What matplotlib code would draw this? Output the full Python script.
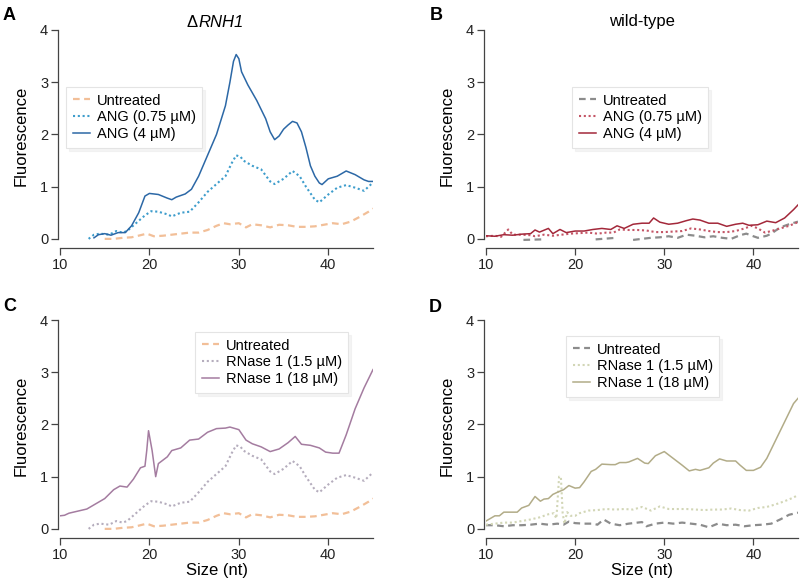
import numpy as np
import matplotlib
matplotlib.use('Agg')
import matplotlib.pyplot as plt

plt.rcParams['font.family'] = ['Liberation Sans', 'DejaVu Sans']

nan = np.nan

# ---- panel A / C shared traces (dRNH1) ----
untr_x = [15, 16, 17, 18, 19, 19.7, 20.5, 21.5, 22.5, 23.5, 24.5, 25.5, 26.5, 27.5, 28.3, 29,
          30, 30.8, 31.5, 32.5, 33.5, 34.5, 35.5, 36.5, 37.5, 38.5, 39.5, 40.5, 41.5, 42.5,
          43.5, 44.5, 45]
untr_y = [0.0, 0.0, 0.02, 0.03, 0.07, 0.1, 0.05, 0.06, 0.08, 0.1, 0.12, 0.12, 0.17, 0.25, 0.3, 0.28,
          0.3, 0.22, 0.28, 0.26, 0.22, 0.27, 0.26, 0.23, 0.23, 0.24, 0.27, 0.3, 0.28, 0.33,
          0.42, 0.52, 0.58]

low_x = [13.2, 13.8, 14.5, 15.5, 16.3, 17, 17.5, 18.5, 19.5, 20.2, 21, 22, 22.5, 23.5, 24.5,
         25.5, 26.5, 27.5, 28.5, 29.2, 29.7, 30.2, 30.5, 31.5, 32.5, 33.5, 34, 35, 36, 36.8,
         37.5, 38.5, 39, 40, 41, 42, 43, 44, 45]
low_y = [0.0, 0.08, 0.1, 0.08, 0.15, 0.12, 0.15, 0.3, 0.45, 0.53, 0.52, 0.47, 0.43, 0.5, 0.52,
         0.7, 0.9, 1.05, 1.2, 1.45, 1.6, 1.57, 1.5, 1.4, 1.33, 1.1, 1.05, 1.15, 1.3, 1.2,
         1.0, 0.75, 0.7, 0.85, 0.98, 1.03, 0.98, 0.92, 1.08]

ang4_x = [13.8, 14.3, 15, 15.7, 16.5, 17.3, 18, 18.8, 19.5, 20, 21, 22, 22.5, 23, 24, 24.7,
          25.5, 26.5, 27.5, 28.5, 29, 29.4, 29.7, 30, 30.3, 31, 32, 33, 33.5, 34, 34.5, 35, 35.5,
          36, 36.5, 37, 37.5, 38, 38.5, 39, 39.3, 40, 41, 42, 43, 44, 44.5, 45]
ang4_y = [0.02, 0.08, 0.1, 0.07, 0.12, 0.12, 0.25, 0.5, 0.82, 0.87, 0.85, 0.78, 0.75, 0.8, 0.86, 0.95,
          1.2, 1.6, 2.0, 2.55, 3.0, 3.4, 3.53, 3.45, 3.2, 2.95, 2.65, 2.3, 2.05, 1.9, 1.97, 2.1, 2.18,
          2.25, 2.22, 2.05, 1.75, 1.4, 1.2, 1.07, 1.04, 1.15, 1.2, 1.3, 1.23, 1.13, 1.1, 1.1]

rn18_x = [10, 10.5, 11, 12, 13, 14, 15, 16, 16.7, 17.5, 18.2, 19, 19.5, 19.7, 19.9, 20.3, 20.7,
          21, 22, 22.5, 23.5, 24.5, 25.5, 26.5, 27.5, 28.5, 29, 30, 30.8, 31.5, 32.5, 33.5,
          34.5, 35.5, 36.3, 37, 38, 39, 39.7, 40.5, 41.2, 42, 43, 44, 45]
rn18_y = [0.25, 0.26, 0.3, 0.34, 0.38, 0.48, 0.58, 0.75, 0.82, 0.8, 0.95, 1.17, 1.2, 1.5, 1.88, 1.5, 1.0,
          1.25, 1.38, 1.5, 1.55, 1.7, 1.72, 1.85, 1.92, 1.93, 1.95, 1.9, 1.7, 1.63, 1.57, 1.48,
          1.53, 1.65, 1.77, 1.62, 1.6, 1.55, 1.47, 1.45, 1.45, 1.8, 2.3, 2.7, 3.05]

# ---- panel B (wild-type, ANG) ----
wtu_x = [14.2, 16.3, nan, 22.3, 24.6, nan, 26.5, 27.5, 28.5, 29.5, 30.5, 31.5, 32.5, 33.5, 34.5,
         35.5, 36.5, 37.5, 38.5, 39.2, 40, 40.5, 41.5, 42, 43, 44, 45]
wtu_y = [-0.02, -0.01, nan, -0.01, 0.02, nan, -0.02, 0.0, 0.02, 0.03, 0.05, 0.02, 0.08, 0.06, 0.03,
         0.05, 0.02, 0.0, 0.07, 0.1, 0.05, 0.02, 0.06, 0.1, 0.22, 0.28, 0.33]

wtl_x = [10, 11, 11.7, 12.5, 13, 14, 15, 15.5, 16.5, 17.5, 18.5, 19.5, 20.5, 21.5, 22.5, 23.5,
         24.3, 25, 26, 27, 28, 29, 30, 31, 32, 33, 34, 35, 36, 37, 38, 39, 39.8, 40.5, 41.3,
         42, 43, 44, 45]
wtl_y = [0.05, 0.06, 0.04, 0.18, 0.08, 0.08, 0.07, 0.05, 0.08, 0.06, 0.08, 0.1, 0.11, 0.12, 0.1, 0.12,
         0.12, 0.18, 0.17, 0.17, 0.16, 0.13, 0.13, 0.14, 0.15, 0.2, 0.18, 0.15, 0.13, 0.13, 0.15, 0.2,
         0.25, 0.2, 0.12, 0.15, 0.2, 0.25, 0.32]

wth_x = [10, 11, 12, 13, 14, 15, 15.5, 16, 17, 17.5, 18.3, 19, 20, 21, 22, 23, 24, 24.7, 25.5,
         26.5, 27.5, 28.3, 28.8, 29.5, 30.5, 31.5, 32.5, 33.2, 34, 35, 36, 37, 38, 38.8, 39.5,
         40.5, 41.5, 42.5, 43.5, 44.5, 45]
wth_y = [0.06, 0.05, 0.08, 0.07, 0.09, 0.1, 0.17, 0.13, 0.2, 0.1, 0.18, 0.12, 0.15, 0.15, 0.18, 0.2,
         0.18, 0.25, 0.2, 0.28, 0.3, 0.3, 0.4, 0.32, 0.28, 0.3, 0.35, 0.38, 0.36, 0.3, 0.3, 0.24,
         0.28, 0.3, 0.26, 0.27, 0.34, 0.31, 0.4, 0.56, 0.65]

# ---- panel D (wild-type, RNase 1) ----
du_x = [10, 11, 12, 13, 14, 15, 16, 17, 18, 18.7, 19.3, 20, 21, 22, 22.5, 23.2, 24, 25, 26,
        27.5, 28, 29, 30, 31, 32, 33, 34, 35, 36, 37, 38, 39, 40, 41, 42, 43, 44, 45]
du_y = [0.07, 0.07, 0.05, 0.07, 0.07, 0.08, 0.1, 0.08, 0.1, 0.08, 0.14, 0.11, 0.1, 0.1, 0.08, 0.18,
        0.1, 0.07, 0.1, 0.13, 0.05, 0.1, 0.12, 0.1, 0.12, 0.1, 0.08, 0.03, 0.1, 0.07, 0.08, 0.05,
        0.07, 0.08, 0.1, 0.18, 0.27, 0.31]

dl_x = [10, 11, 12, 13, 14, 15, 16, 17, 17.6, 17.9, 18.2, 18.4, 18.6, 18.8, 19.1, 19.5, 20,
        20.5, 21.5, 22.5, 23.5, 24.5, 25.5, 26.5, 27.5, 28.5, 29.5, 30.5, 31.5, 32.5, 33.5,
        34.5, 35.5, 36.5, 37.5, 38.5, 39.5, 40.5, 41.5, 42.5, 43.5, 44.5, 45]
dl_y = [0.08, 0.1, 0.12, 0.12, 0.15, 0.18, 0.22, 0.28, 0.3, 0.2, 1.0, 1.0, 0.3, 0.1, 0.32, 0.25, 0.25,
        0.3, 0.35, 0.36, 0.38, 0.37, 0.38, 0.37, 0.42, 0.35, 0.43, 0.38, 0.38, 0.38, 0.37,
        0.36, 0.37, 0.37, 0.39, 0.36, 0.35, 0.4, 0.42, 0.47, 0.53, 0.6, 0.65]

dh_x = [10, 10.5, 11, 11.5, 12, 13, 13.5, 14, 14.8, 15.5, 16.1, 16.5, 17, 17.5, 18, 18.7, 19.3,
        20, 20.5, 21, 21.8, 22.3, 23, 24, 24.5, 25, 25.7, 26, 27, 27.8, 28.2, 29, 30, 31, 32,
        32.8, 33.5, 34, 35, 35.5, 36.2, 37, 38, 38.5, 39.2, 40, 40.8, 41.5, 42.5, 43.5, 44.5, 45]
dh_y = [0.15, 0.2, 0.25, 0.25, 0.32, 0.32, 0.32, 0.4, 0.45, 0.62, 0.53, 0.57, 0.58, 0.66, 0.7, 0.75, 0.83,
        0.78, 0.79, 0.9, 1.1, 1.14, 1.24, 1.23, 1.23, 1.27, 1.27, 1.28, 1.35, 1.26, 1.25, 1.4, 1.48,
        1.35, 1.22, 1.11, 1.14, 1.12, 1.17, 1.26, 1.34, 1.3, 1.3, 1.22, 1.12, 1.12, 1.18, 1.35,
        1.7, 2.05, 2.4, 2.5]

W, H = 800.0, 586.0
fig = plt.figure(figsize=(8, 5.86), dpi=100)


def make_ax(left_px, top_px, right_px, bottom_px):
    ax = fig.add_axes([left_px / W, 1 - bottom_px / H, (right_px - left_px) / W,
                       (bottom_px - top_px) / H])
    ax.set_xlim(10, 45)
    ax.set_ylim(-0.06, 4.0)
    for s in ['top', 'right']:
        ax.spines[s].set_visible(False)
    ax.spines['left'].set_bounds(0, 4)
    ax.spines['bottom'].set_bounds(10, 45)
    ax.spines['left'].set_position(('outward', 1.5))
    ax.spines['bottom'].set_position(('outward', 4.5))
    for s in ['left', 'bottom']:
        ax.spines[s].set_color('#444444')
        ax.spines[s].set_linewidth(0.9)
    ax.set_yticks([0, 1, 2, 3, 4])
    ax.set_xticks([10, 20, 30, 40])
    ax.tick_params(direction='out', length=5, width=0.9, color='#444444',
                   labelsize=10.5, labelcolor='#222222', pad=2)
    ax.set_ylabel('Fluorescence', fontsize=12, labelpad=8)
    ax.patch.set_visible(False)
    return ax


def add_legend(ax, x_px, y_px):
    leg = ax.legend(loc='upper left', bbox_to_anchor=(x_px / W, 1 - y_px / H),
                    bbox_transform=fig.transFigure, borderaxespad=0, fontsize=10.5,
                    handlelength=1.2, handletextpad=0.45, labelspacing=0.2,
                    borderpad=0.45, fancybox=False, framealpha=1, edgecolor='#e4e4e4',
                    shadow={'color': '#eaeaea'})
    leg.get_frame().set_linewidth(0.8)
    return leg


axA = make_ax(60, 30, 373, 242)
axA.plot(untr_x, untr_y, ls=(0, (3, 2)), color='#f2bf98', lw=1.6, label='Untreated')
axA.plot(low_x, low_y, ls=(0, (1, 1.3)), color='#3e9dcc', lw=1.5, label='ANG (0.75 µM)')
axA.plot(ang4_x, ang4_y, ls='-', color='#2c68a6', lw=1.1, label='ANG (4 µM)')
# title: upright delta + italic gene name
axA.text(0.441, 1.0, 'Δ', transform=axA.transAxes, ha='right', va='bottom', fontsize=12)
axA.text(0.441, 1.0, 'RNH1', transform=axA.transAxes, ha='left', va='bottom', fontsize=12,
         fontstyle='italic')
add_legend(axA, 66, 87)

axB = make_ax(486, 30, 798, 242)
axB.plot(wtu_x, wtu_y, ls=(0, (3, 2)), color='#8c8c8c', lw=1.6, label='Untreated')
axB.plot(wtl_x, wtl_y, ls=(0, (1, 1.3)), color='#c45566', lw=1.5, label='ANG (0.75 µM)')
axB.plot(wth_x, wth_y, ls='-', color='#a3283a', lw=1.1, label='ANG (4 µM)')
axB.set_title('wild-type', fontsize=12, pad=3)
add_legend(axB, 572, 87)

axC = make_ax(60, 320, 373, 532)
axC.plot(untr_x, untr_y, ls=(0, (3, 2)), color='#f2bf98', lw=1.6, label='Untreated')
axC.plot(low_x, low_y, ls=(0, (1, 1.3)), color='#b5adbd', lw=1.5, label='RNase 1 (1.5 µM)')
axC.plot(rn18_x, rn18_y, ls='-', color='#a47ca0', lw=1.1, label='RNase 1 (18 µM)')
axC.set_xlabel('Size (nt)', fontsize=12, labelpad=1)
add_legend(axC, 195, 332)

axD = make_ax(486, 320, 798, 532)
axD.plot(du_x, du_y, ls=(0, (3, 2)), color='#8c8c8c', lw=1.6, label='Untreated')
axD.plot(dl_x, dl_y, ls=(0, (1, 1.3)), color='#d2d6b6', lw=1.5, label='RNase 1 (1.5 µM)')
axD.plot(dh_x, dh_y, ls='-', color='#b2ac88', lw=1.1, label='RNase 1 (18 µM)')
axD.set_xlabel('Size (nt)', fontsize=12, labelpad=1)
add_legend(axD, 566, 336)

for lab, xp, yp in [('A', 3, 20), ('B', 430, 20), ('C', 3, 311), ('D', 429, 312)]:
    fig.text(xp / W, 1 - yp / H, lab, fontsize=13, fontweight='bold')

fig.savefig('out.png', dpi=100)
